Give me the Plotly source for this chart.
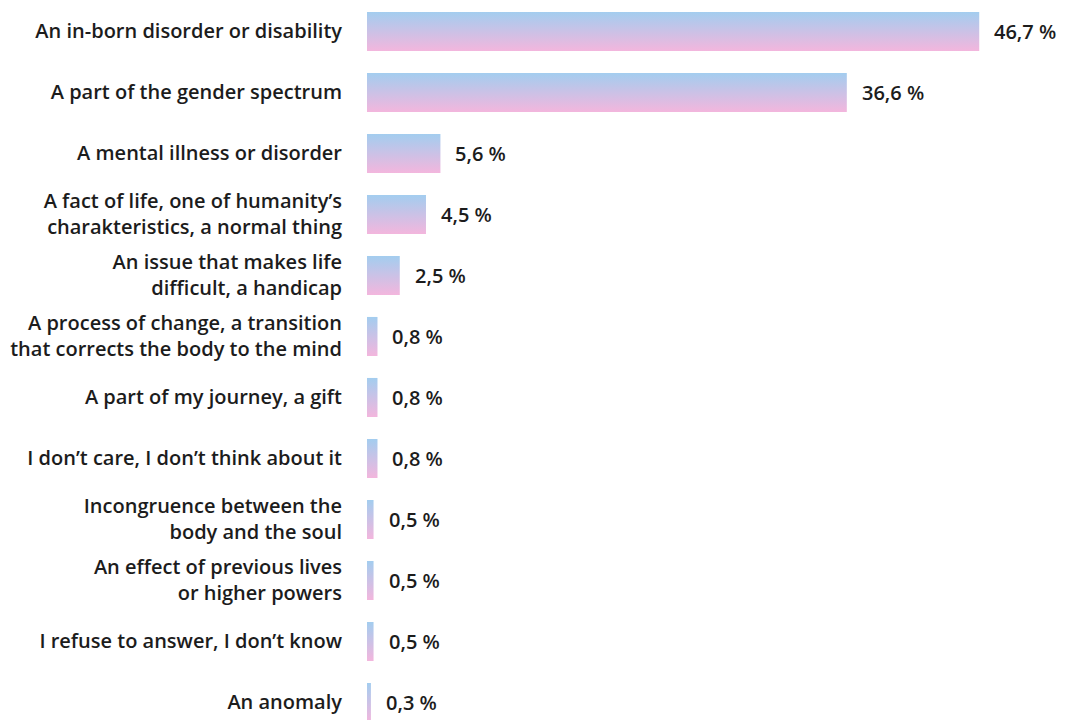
import plotly.graph_objects as go

categories = [
    "An in-born disorder or disability",
    "A part of the gender spectrum",
    "A mental illness or disorder",
    "A fact of life, one of humanity\u2019s<br>charakteristics, a normal thing",
    "An issue that makes life<br>difficult, a handicap",
    "A process of change, a transition<br>that corrects the body to the mind",
    "A part of my journey, a gift",
    "I don\u2019t care, I don\u2019t think about it",
    "Incongruence between the<br>body and the soul",
    "An effect of previous lives<br>or higher powers",
    "I refuse to answer, I don\u2019t know",
    "An anomaly",
]
values = [46.7, 36.6, 5.6, 4.5, 2.5, 0.8, 0.8, 0.8, 0.5, 0.5, 0.5, 0.3]
value_labels = ["46,7 %", "36,6 %", "5,6 %", "4,5 %", "2,5 %", "0,8 %",
                "0,8 %", "0,8 %", "0,5 %", "0,5 %", "0,5 %", "0,3 %"]

BLUE = "#A3CDEF"
PINK = "#F3B6DD"
TEXT = "#1c1c1c"
FONT = "Open Sans"
SIZE = 20
HALF = 0.32  # half bar thickness in category units

fig = go.Figure()

# Each bar is a filled rectangle so it can carry a vertical blue-to-pink gradient
for i, v in enumerate(values):
    fig.add_trace(go.Scatter(
        x=[0, v, v, 0, 0],
        y=[i - HALF, i - HALF, i + HALF, i + HALF, i - HALF],
        mode="none",
        fill="toself",
        fillgradient=dict(type="vertical", colorscale=[[0, PINK], [1, BLUE]]),
        hoverinfo="skip",
        showlegend=False,
    ))
    fig.add_annotation(
        x=v, y=i, text=value_labels[i], showarrow=False,
        xanchor="left", yanchor="middle", xshift=13,
        font=dict(family=FONT, size=SIZE, color=TEXT, weight=600),
    )

fig.update_layout(
    width=1071, height=720,
    margin=dict(l=367, r=0, t=0, b=0),
    paper_bgcolor="white", plot_bgcolor="white",
    font=dict(family=FONT, size=SIZE, color=TEXT, weight=600),
    xaxis=dict(range=[0, 53.7], visible=False, showgrid=False, zeroline=False),
    yaxis=dict(
        range=[11.287, -0.516],
        tickmode="array",
        tickvals=list(range(len(categories))),
        ticktext=categories,
        ticks="outside", ticklen=20, tickcolor="white",
        showgrid=False, zeroline=False, showline=False,
        tickfont=dict(family=FONT, size=SIZE, color=TEXT, weight=600),
    ),
)

fig.write_html("out.html")
